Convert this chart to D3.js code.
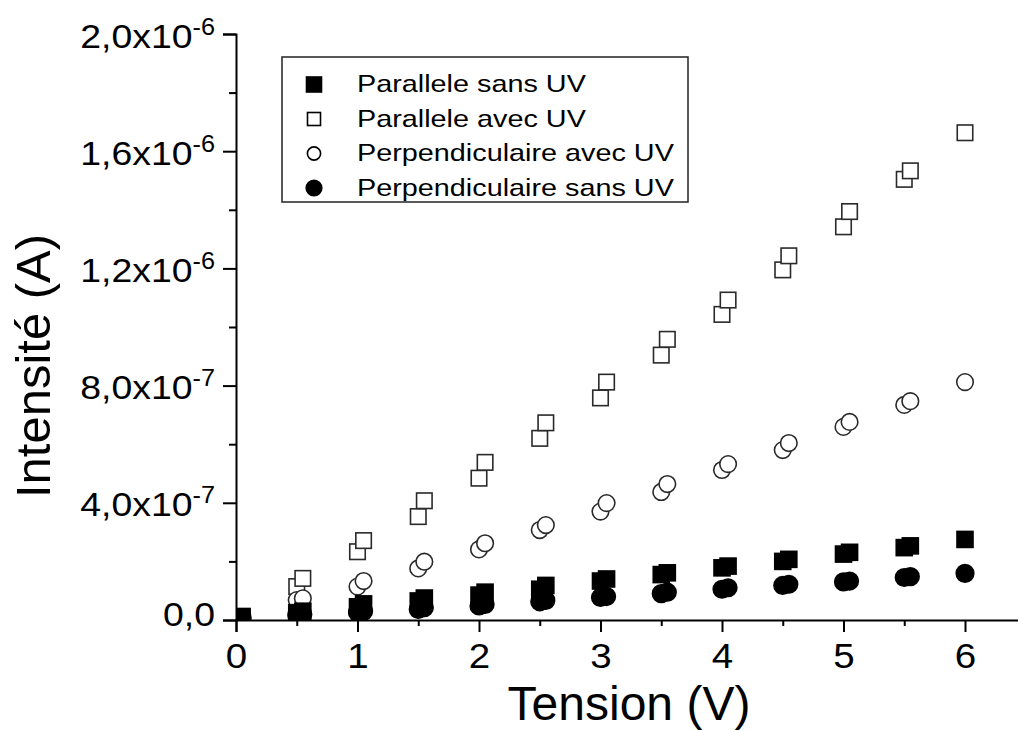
<!DOCTYPE html>
<html>
<head>
<meta charset="utf-8">
<script src="https://cdn.jsdelivr.net/npm/d3@7"></script>
<style>
  body { margin: 0; background: #fff; }
  text { font-family: "Liberation Sans", Arial, sans-serif; fill: #000; }
</style>
</head>
<body>
<div id="chart"></div>
<script>
// tension values (V), pairs of measurements at x and x+0.05
var tension = [0.05, 0.5, 0.55, 1.0, 1.05, 1.5, 1.55, 2.0, 2.05, 2.5, 2.55, 3.0, 3.05,
               3.5, 3.55, 4.0, 4.05, 4.5, 4.55, 5.0, 5.05, 5.5, 5.55, 6.0];

// intensities in microampere
var paraSans = [0.012, 0.025, 0.030, 0.045, 0.055, 0.065, 0.075, 0.085, 0.095, 0.105, 0.118, 0.133, 0.140,
                0.155, 0.161, 0.178, 0.184, 0.200, 0.207, 0.225, 0.231, 0.247, 0.253, 0.275];
var paraAvec = [0.010, 0.114, 0.142, 0.233, 0.271, 0.353, 0.407, 0.484, 0.538, 0.620, 0.673, 0.758, 0.812,
                0.904, 0.958, 1.043, 1.092, 1.195, 1.243, 1.342, 1.394, 1.504, 1.533, 1.663];
var perpAvec = [0.010, 0.068, 0.074, 0.114, 0.133, 0.176, 0.199, 0.241, 0.262, 0.307, 0.324, 0.370, 0.399,
                0.437, 0.464, 0.512, 0.532, 0.580, 0.604, 0.659, 0.676, 0.734, 0.747, 0.812];
var perpSans = [0.008, 0.018, 0.020, 0.026, 0.030, 0.036, 0.042, 0.048, 0.053, 0.062, 0.067, 0.077, 0.080,
                0.090, 0.095, 0.105, 0.110, 0.118, 0.122, 0.130, 0.133, 0.145, 0.148, 0.159];

var seriesNames = ["Parallele sans UV", "Parallele avec UV", "Perpendiculaire avec UV", "Perpendiculaire sans UV"];

var xTicks = [0, 1, 2, 3, 4, 5, 6];
var xMinorTicks = [0.5, 1.5, 2.5, 3.5, 4.5, 5.5, 6.5];
var yTicks = [0, 4e-7, 8e-7, 1.2e-6, 1.6e-6, 2.0e-6];
var yMinorTicks = [2e-7, 6e-7, 1.0e-6, 1.4e-6, 1.8e-6];

function init() {
    var W = 1018, H = 731;
    var margin = { top: 34, left: 236 },
        h = 586,
        w = 6.5 * 121.5;

    var svg = d3.select("#chart")
        .append("svg")
        .attr("width", W)
        .attr("height", H);

    var g = svg.append("g")
        .attr("transform", `translate(${margin.left},${margin.top})`);

    var x = d3.scaleLinear().domain([0, 6.5]).range([0, w]);
    var y = d3.scaleLinear().domain([0, 2e-6]).range([h, 0]);

    svg.append("defs").append("clipPath")
        .attr("id", "plotclip")
        .append("rect")
        .attr("x", 0).attr("y", -20)
        .attr("width", w).attr("height", h + 20);

    // data series, drawn from the arrays
    var series = [
        { name: seriesNames[1], values: paraAvec, shape: "square", filled: false },
        { name: seriesNames[2], values: perpAvec, shape: "circle", filled: false },
        { name: seriesNames[0], values: paraSans, shape: "square", filled: true },
        { name: seriesNames[3], values: perpSans, shape: "circle", filled: true }
    ];

    var plot = g.append("g").attr("clip-path", "url(#plotclip)");

    series.forEach(s => {
        var pts = tension.map((t, i) => ({ t: t, v: s.values[i] * 1e-6 }));
        var sel = plot.append("g").selectAll("path").data(pts).enter();
        if (s.shape === "square") {
            var size = s.filled ? 16 : 15.5;
            sel.append("rect")
                .attr("x", d => x(d.t) - size / 2)
                .attr("y", d => y(d.v) - size / 2)
                .attr("width", size)
                .attr("height", size)
                .attr("fill", s.filled ? "#000" : "#fff")
                .attr("stroke", s.filled ? "#000" : "#2a2a2a")
                .attr("stroke-width", 1.6);
        } else {
            sel.append("circle")
                .attr("cx", d => x(d.t))
                .attr("cy", d => y(d.v))
                .attr("r", s.filled ? 8.8 : 8.3)
                .attr("fill", s.filled ? "#000" : "#fff")
                .attr("stroke", s.filled ? "#000" : "#2a2a2a")
                .attr("stroke-width", 1.6);
        }
    });

    // y axis
    var yAxis = g.append("g")
        .call(d3.axisLeft(y).tickValues(yTicks).tickSize(13).tickFormat(""));
    g.append("g")
        .call(d3.axisLeft(y).tickValues(yMinorTicks).tickSize(7).tickFormat(""))
        .select(".domain").remove();

    yAxis.selectAll(".tick").each(function(d) {
        var t = d3.select(this).append("text")
            .attr("text-anchor", "end")
            .attr("transform", `translate(-21,${d === 0 ? 5 : 13}) scale(1.1,1)`)
            .style("font-size", "34px");
        if (d === 0) {
            t.text("0,0");
        } else {
            var e = Math.floor(Math.log10(d) + 1e-9);
            var m = (d / Math.pow(10, e)).toFixed(1).replace(".", ",");
            t.append("tspan").text(m + "x10");
            t.append("tspan")
                .attr("dy", -13)
                .style("font-size", "23px")
                .text(e);
        }
    });

    // x axis
    var xAxis = g.append("g")
        .attr("transform", `translate(0,${h})`)
        .call(d3.axisBottom(x).tickValues(xTicks).tickSize(12).tickFormat(""));
    g.append("g")
        .attr("transform", `translate(0,${h})`)
        .call(d3.axisBottom(x).tickValues(xMinorTicks).tickSize(6).tickFormat(""))
        .select(".domain").remove();

    xAxis.selectAll(".tick").append("text")
        .attr("text-anchor", "middle")
        .attr("transform", "translate(0,48) scale(1.1,1)")
        .style("font-size", "35px")
        .text(d => d);

    g.selectAll(".domain").attr("stroke-width", 2).attr("stroke", "#000");
    g.selectAll(".tick line").attr("stroke-width", 2).attr("stroke", "#000");

    // axis titles
    svg.append("text")
        .attr("x", 629)
        .attr("y", 720)
        .attr("text-anchor", "middle")
        .style("font-size", "48px")
        .text("Tension (V)");

    svg.append("text")
        .attr("transform", "translate(50,366) rotate(-90)")
        .attr("text-anchor", "middle")
        .style("font-size", "49px")
        .text("Intensité (A)");

    // legend
    var legend = svg.append("g").attr("transform", "translate(282,57)");
    legend.append("rect")
        .attr("width", 406)
        .attr("height", 145)
        .attr("fill", "#fff")
        .attr("stroke", "#222")
        .attr("stroke-width", 1.5);

    var legendItems = [
        { name: seriesNames[0], shape: "square", filled: true },
        { name: seriesNames[1], shape: "square", filled: false },
        { name: seriesNames[2], shape: "circle", filled: false },
        { name: seriesNames[3], shape: "circle", filled: true }
    ];
    var rows = legend.selectAll(".row")
        .data(legendItems)
        .enter()
        .append("g")
        .attr("class", "row")
        .attr("transform", (d, i) => `translate(32,${27.5 + i * 34.5})`);

    rows.filter(d => d.shape === "square").append("rect")
        .attr("x", d => d.filled ? -7.5 : -6.5)
        .attr("y", d => d.filled ? -7.5 : -6.5)
        .attr("width", d => d.filled ? 15 : 13)
        .attr("height", d => d.filled ? 15 : 13)
        .attr("fill", d => d.filled ? "#000" : "#fff")
        .attr("stroke", "#000")
        .attr("stroke-width", 1.6);
    rows.filter(d => d.shape === "circle").append("circle")
        .attr("r", d => d.filled ? 7.8 : 6.6)
        .attr("fill", d => d.filled ? "#000" : "#fff")
        .attr("stroke", "#000")
        .attr("stroke-width", 1.6);

    rows.append("text")
        .attr("transform", "translate(43,7.5) scale(1.2,1)")
        .style("font-size", "24px")
        .text(d => d.name);
}

window.onload = init;
</script>
</body>
</html>
